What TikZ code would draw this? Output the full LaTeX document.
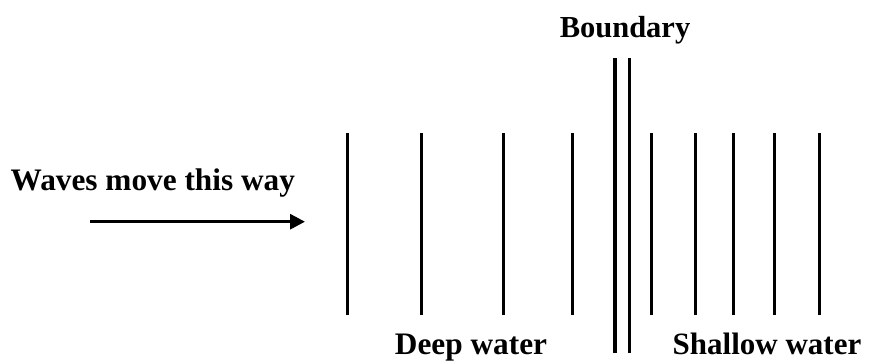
\documentclass[tikz,border=0pt]{standalone}
\usepackage{fontspec}
\setmainfont{Liberation Serif}
\usetikzlibrary{arrows.meta}
\begin{document}
\begin{tikzpicture}[x=1pt,y=1pt,
  label/.style={inner sep=0pt, font=\fontsize{31.3}{36}\selectfont\bfseries},
  crest/.style={line width=3pt},
  edge/.style={line width=3.4pt},
  motion/.style={line width=3pt, -{Triangle[length=15pt,width=15pt]}}]
  \useasboundingbox (0,0) rectangle (869,360);

  % wave crests in deep water
  \foreach \x in {347,421,503,572}
    \draw[crest] (\x,45) -- (\x,227);

  % the boundary between the two depths
  \foreach \x in {615,629.5}
    \draw[edge] (\x,7) -- (\x,302);

  % wave crests in shallow water
  \foreach \x in {651,695,733,774,819}
    \draw[crest] (\x,45) -- (\x,227);

  % labels
  \node[label, anchor=base west] (dir) at (10.5,170) {Waves move this way};
  \node[label, anchor=base, font=\fontsize{30.5}{36}\selectfont\bfseries] (bnd) at (625,322.5) {Boundary};
  \node[label, anchor=base] (deep) at (471,6) {Deep water};
  \node[label, anchor=base, font=\fontsize{31}{36}\selectfont\bfseries] (shallow) at (767,6) {Shallow water};

  % direction of travel
  \coordinate (from) at (90,138.3);
  \coordinate (to) at (305,138.3);
  \draw[motion] (from) -- (to);
\end{tikzpicture}
\end{document}
